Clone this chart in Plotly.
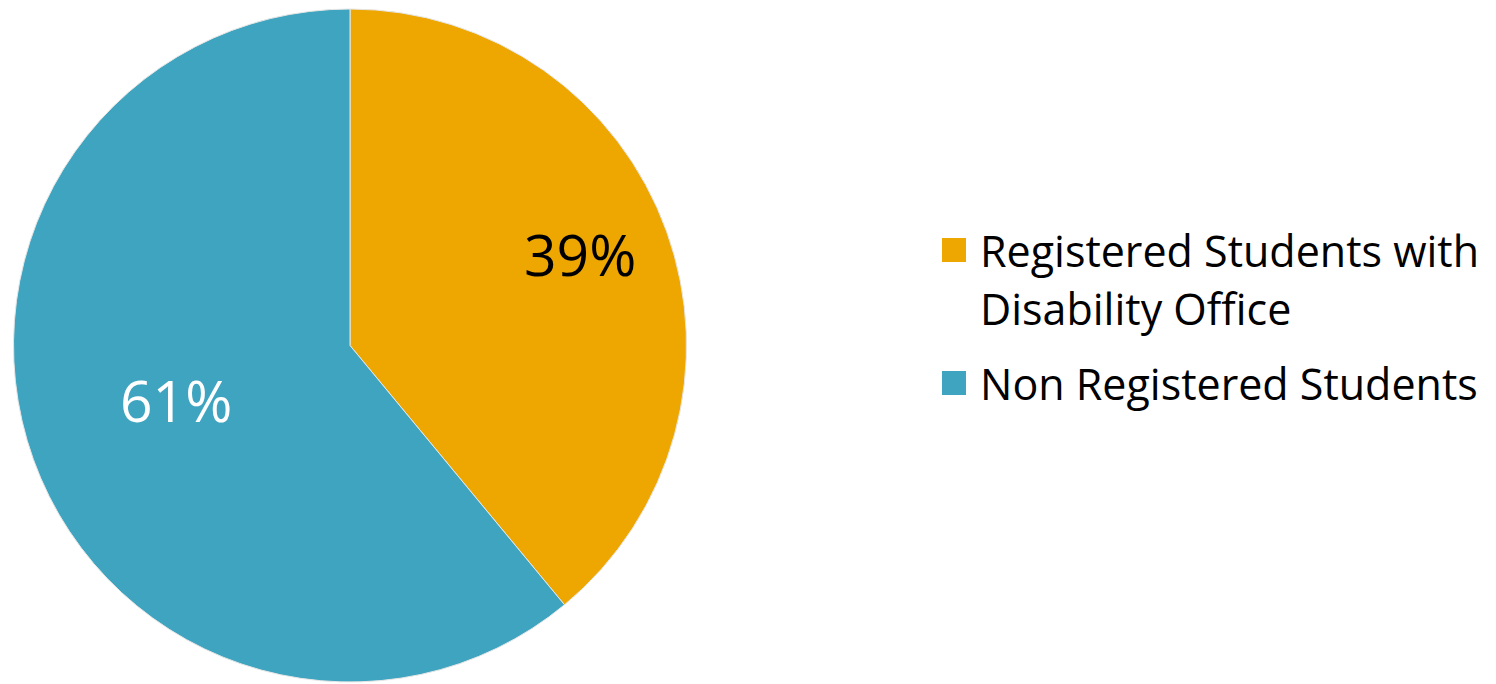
import math
import plotly.graph_objects as go

labels = ["Registered Students with Disability Office", "Non Registered Students"]
legend_lines = [["Registered Students with", "Disability Office"], ["Non Registered Students"]]
values = [39, 61]

colors = ["#EEA700", "#3FA4BF"]
text_colors = ["#000000", "#FFFFFF"]

W, H = 1496, 684
OFF = 8  # page body margin: figure is drawn at (8, 8) in the window


def px(xp):  # window x pixel -> paper fraction
    return (xp - OFF) / W


def py(yp):  # window y pixel -> paper fraction
    return 1 - (yp - OFF) / H


# pie geometry in window pixels
cx, cy, R = 350, 345.5, 336.5
pie_x = [px(cx - R), px(cx + R)]
pie_y = [py(cy + R), py(cy - R)]

fig = go.Figure()
fig.add_trace(go.Pie(
    labels=labels,
    values=values,
    sort=False,
    direction="clockwise",
    rotation=0,
    marker=dict(colors=colors, line=dict(color="#E6E6E6", width=1)),
    textinfo="none",
    domain=dict(x=pie_x, y=pie_y),
    showlegend=False,
    hoverinfo="label+percent",
))

# percentage labels, placed along each slice's mid-angle
label_radius = [0.735, 0.542]
label_shift = [-2.0, 2.4]  # small angular tweak (degrees)
total = sum(values)
start = 0.0
for i, v in enumerate(values):
    mid = start + v / total * 360 / 2 + label_shift[i]
    start += v / total * 360
    a = math.radians(mid)
    lx = cx + label_radius[i] * R * math.sin(a)
    ly = cy - label_radius[i] * R * math.cos(a)
    fig.add_annotation(xref="paper", yref="paper", x=px(lx), y=py(ly),
                       text=f"{round(v / total * 100)}%", showarrow=False,
                       xanchor="center", yanchor="middle",
                       font=dict(family="Open Sans", size=57, color=text_colors[i]))

# manual legend (larger swatches than plotly's built-in legend)
legend_top = [250, 383]
line_gap = 58
for i, (lines, col) in enumerate(zip(legend_lines, colors)):
    y0 = legend_top[i]
    fig.add_shape(type="rect", xref="paper", yref="paper",
                  x0=px(942), x1=px(966), y0=py(y0 + 12), y1=py(y0 - 12),
                  fillcolor=col, line=dict(width=0))
    for j, t in enumerate(lines):
        fig.add_annotation(xref="paper", yref="paper", x=px(978), y=py(y0 + j * line_gap),
                           text=t, showarrow=False, xanchor="left", yanchor="middle",
                           align="left", font=dict(family="Open Sans", size=43, color="#000000"))

fig.update_layout(
    width=W, height=H,
    margin=dict(l=0, r=0, t=0, b=0),
    paper_bgcolor="white", plot_bgcolor="white",
)

fig.write_html("out.html")
